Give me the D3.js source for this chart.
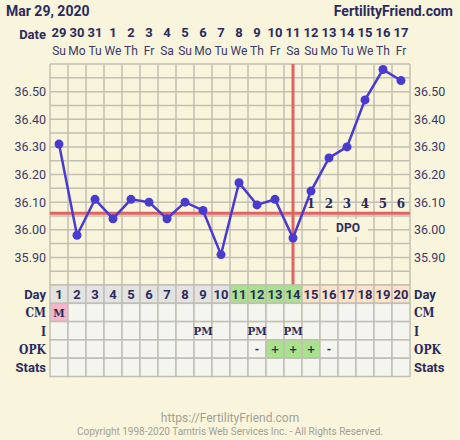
<!DOCTYPE html>
<html>
<head>
<meta charset="utf-8">
<script src="https://cdn.jsdelivr.net/npm/d3@7"></script>
<style>
    body { margin: 0; background: #f9f5dc; }
    svg { display: block; }
</style>
</head>
<body>
<div id="chartDiv"></div>
<script>

// chart data
var days = d3.range(1, 21);
var dates = ["29", "30", "31", "1", "2", "3", "4", "5", "6", "7", "8", "9", "10", "11", "12", "13", "14", "15", "16", "17"];
var weekdays = ["Su", "Mo", "Tu", "We", "Th", "Fr", "Sa", "Su", "Mo", "Tu", "We", "Th", "Fr", "Sa", "Su", "Mo", "Tu", "We", "Th", "Fr"];
var temps = [36.31, 35.98, 36.11, 36.04, 36.11, 36.10, 36.04, 36.10, 36.07, 35.91,
             36.17, 36.09, 36.11, 35.97, 36.14, 36.26, 36.30, 36.47, 36.58, 36.54];
var tempTicks = [35.90, 36.00, 36.10, 36.20, 36.30, 36.40, 36.50];
var coverline = 36.06;
var ovulationDay = 14;
var dpoDays = [15, 16, 17, 18, 19, 20];
var dpoLabels = ["1", "2", "3", "4", "5", "6"];
var fertileDays = [11, 12, 13, 14];
var lutealDays = [15, 16, 17, 18, 19, 20];
var cmValues = ["M", "", "", "", "", "", "", "", "", "", "", "", "", "", "", "", "", "", "", ""];
var intercourse = ["", "", "", "", "", "", "", "", "PM", "", "", "PM", "", "PM", "", "", "", "", "", ""];
var opk = ["", "", "", "", "", "", "", "", "", "", "", "-", "+", "+", "+", "-", "", "", "", ""];
var rowLabels = ["Day", "CM", "I", "OPK", "Stats"];

var margin = {left: 50, right: 50, top: 64},
    width = 460,
    height = 440;

var navy = "#2b2a5e",
    gridColor = "#c2bfb3",
    red = "#e06262",
    blue = "#4a3bd0";

var svg = d3.select("#chartDiv").append("svg")
    .attr("width", width)
    .attr("height", height)
    .style("font-family", "Roboto, sans-serif");

svg.append("rect").attr("width", width).attr("height", height).style("fill", "#f9f5dc");

var x = d3.scaleBand()
    .domain(days)
    .range([margin.left, width - margin.right]);

var y = d3.scaleLinear()
    .domain([35.8, 36.6])
    .range([285, margin.top]);

var cx = function (d) { return x(d) + x.bandwidth() / 2; };

// header
svg.append("text")
    .attr("x", 6).attr("y", 16)
    .style("font-size", "14px").style("font-weight", "bold").style("fill", navy)
    .text("Mar 29, 2020");

svg.append("text")
    .attr("x", 453).attr("y", 16)
    .style("text-anchor", "end")
    .style("font-size", "14px").style("font-weight", "bold").style("fill", navy)
    .text("FertilityFriend.com");

svg.append("text")
    .attr("x", 46).attr("y", 39)
    .style("text-anchor", "end")
    .style("font-size", "13px").style("font-weight", "bold").style("fill", navy)
    .text("Date");

svg.selectAll(".date")
    .data(days)
    .enter().append("text")
    .attr("class", "date")
    .attr("x", cx).attr("y", 37)
    .style("text-anchor", "middle")
    .style("font-size", "13px").style("font-weight", "bold").style("fill", navy)
    .text(function (d, i) { return dates[i]; });

svg.selectAll(".wday")
    .data(days)
    .enter().append("text")
    .attr("class", "wday")
    .attr("x", cx).attr("y", 55)
    .style("text-anchor", "middle")
    .style("font-size", "12px").style("fill", "#3b3868")
    .text(function (d, i) { return weekdays[i]; });

// temperature grid
var grid = svg.append("g").attr("class", "grid");

grid.selectAll(".hline")
    .data(d3.range(0, 17))
    .enter().append("line")
    .attr("x1", margin.left).attr("x2", width - margin.right)
    .attr("y1", function (d) { return y(35.8 + d * 0.05); })
    .attr("y2", function (d) { return y(35.8 + d * 0.05); })
    .style("stroke", gridColor).style("stroke-width", 1.5);

grid.selectAll(".vline")
    .data(d3.range(0, 21))
    .enter().append("line")
    .attr("x1", function (d) { return margin.left + d * x.bandwidth(); })
    .attr("x2", function (d) { return margin.left + d * x.bandwidth(); })
    .attr("y1", y(36.6)).attr("y2", y(35.8))
    .style("stroke", gridColor).style("stroke-width", 1.5);

// axes
var yLeft = svg.append("g")
    .attr("transform", "translate(" + margin.left + ",0)")
    .call(d3.axisLeft(y).tickValues(tempTicks).tickFormat(d3.format(".2f")).tickSize(0).tickPadding(4));

var yRight = svg.append("g")
    .attr("transform", "translate(" + (width - margin.right) + ",0)")
    .call(d3.axisRight(y).tickValues(tempTicks).tickFormat(d3.format(".2f")).tickSize(0).tickPadding(4));

[yLeft, yRight].forEach(function (ax) {
    ax.select(".domain").remove();
    ax.selectAll("text")
        .style("font-family", "Roboto, sans-serif")
        .style("font-size", "12.5px")
        .style("fill", "#3b3868");
});

// DPO label box
svg.append("rect")
    .attr("x", 328).attr("y", 219)
    .attr("width", 40).attr("height", 18)
    .style("fill", "#f9f5dc");

svg.append("text")
    .attr("x", 348).attr("y", 232)
    .style("text-anchor", "middle")
    .style("font-size", "12px").style("font-weight", "bold").style("fill", navy)
    .text("DPO");

svg.selectAll(".dpo")
    .data(dpoDays)
    .enter().append("text")
    .attr("class", "dpo")
    .attr("x", cx).attr("y", 208)
    .style("text-anchor", "middle")
    .style("font-family", "'DejaVu Serif', serif")
    .style("font-size", "12px").style("font-weight", "bold").style("fill", navy)
    .text(function (d, i) { return dpoLabels[i]; });

// coverline and ovulation line
svg.append("line")
    .attr("x1", margin.left).attr("x2", width - margin.right)
    .attr("y1", y(coverline)).attr("y2", y(coverline))
    .style("stroke", red).style("stroke-width", 3);

svg.append("line")
    .attr("x1", cx(ovulationDay)).attr("x2", cx(ovulationDay))
    .attr("y1", y(36.6)).attr("y2", y(35.8))
    .style("stroke", red).style("stroke-width", 3);

// temperature line
var line = d3.line()
    .x(function (d, i) { return cx(days[i]); })
    .y(function (d) { return y(d); });

svg.append("path")
    .datum(temps)
    .attr("d", line)
    .style("fill", "none")
    .style("stroke", blue)
    .style("stroke-width", 2.5);

svg.selectAll(".dot")
    .data(temps)
    .enter().append("circle")
    .attr("class", "dot")
    .attr("cx", function (d, i) { return cx(days[i]); })
    .attr("cy", function (d) { return y(d); })
    .attr("r", 4.5)
    .style("fill", blue);

// table
var rowH = 18.3,
    tableTop = 285;

var rowY = function (r) { return tableTop + r * rowH; };

var cellFill = function (r, d, i) {
    if (r === 0) {
        if (fertileDays.indexOf(d) >= 0) return "#a8e28c";
        if (lutealDays.indexOf(d) >= 0) return "#fde2c8";
        return "#e3e3e1";
    }
    if (r === 1 && cmValues[i] === "M") return "#f4b7c9";
    if (r === 3 && opk[i] === "+") return "#a8e28c";
    return "#f5f5ef";
};

rowLabels.forEach(function (label, r) {
    svg.selectAll(".cell" + r)
        .data(days)
        .enter().append("rect")
        .attr("x", function (d) { return x(d); })
        .attr("y", rowY(r))
        .attr("width", x.bandwidth())
        .attr("height", rowH)
        .style("fill", function (d, i) { return cellFill(r, d, i); })
        .style("stroke", gridColor)
        .style("stroke-width", 1.5);

    var serif = r > 0 && r < 4;
    [[46, "end"], [414, "start"]].forEach(function (p) {
        svg.append("text")
            .attr("x", p[0]).attr("y", rowY(r) + 14)
            .style("text-anchor", p[1])
            .style("font-family", serif ? "'DejaVu Serif', serif" : "Roboto, sans-serif")
            .style("font-stretch", serif ? "condensed" : "normal")
            .style("font-size", serif ? "12px" : "13px")
            .style("font-weight", "bold").style("fill", navy)
            .text(label);
    });
});

svg.selectAll(".dayNum")
    .data(days)
    .enter().append("text")
    .attr("x", cx).attr("y", rowY(0) + 14)
    .style("text-anchor", "middle")
    .style("font-size", "13px").style("font-weight", "bold").style("fill", navy)
    .text(function (d) { return d; });

[[1, cmValues], [2, intercourse], [3, opk]].forEach(function (row) {
    svg.selectAll(".val" + row[0])
        .data(days)
        .enter().append("text")
        .attr("x", cx).attr("y", rowY(row[0]) + 13.5)
        .style("text-anchor", "middle")
        .style("font-family", "'DejaVu Serif', serif")
        .style("font-stretch", "condensed")
        .style("font-size", "11.5px").style("font-weight", "bold").style("fill", navy)
        .text(function (d, i) { return row[1][i]; });
});

// footer
svg.append("text")
    .attr("x", 230).attr("y", 422)
    .style("text-anchor", "middle")
    .style("font-size", "12px").style("fill", "#a29f94")
    .text("https://FertilityFriend.com");

svg.append("text")
    .attr("x", 230).attr("y", 435)
    .style("text-anchor", "middle")
    .style("font-size", "10px").style("fill", "#a29f94")
    .text("Copyright 1998-2020 Tamtris Web Services Inc. - All Rights Reserved.");

</script>
</body>
</html>
